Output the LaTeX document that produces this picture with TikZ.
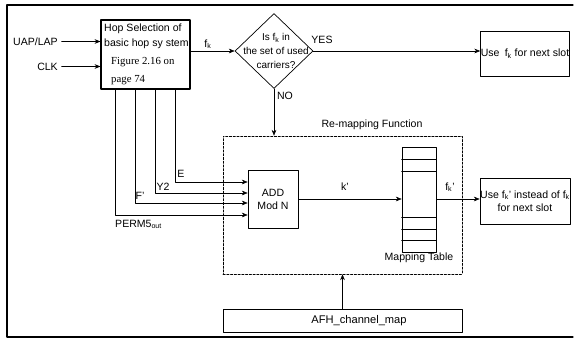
\documentclass[tikz,border=0pt]{standalone}
\usepackage{fontspec}
\setmainfont{Liberation Sans}
\newfontfamily\figfont{Liberation Serif}
\usetikzlibrary{shapes.geometric,arrows.meta}

\tikzset{
  blk/.style={draw, line width=0.6pt, inner sep=0pt},
  lbl/.style={inner sep=0pt, font=\fontsize{9}{11}\selectfont},
  figlbl/.style={inner sep=0pt, font=\figfont\fontsize{9.2}{11}\selectfont},
  dashbox/.style={draw, line width=0.5pt, dash pattern=on 2pt off 1.2pt, inner sep=0pt},
}

\begin{document}
\begin{tikzpicture}[line cap=round,line join=round,>={Stealth[length=5pt,width=4pt]},x=0.03cm,y=-0.03cm,
  font=\fontsize{9}{11}\selectfont]
\useasboundingbox (0,0) rectangle (575,339);
% frame
\draw [line width=1.1pt] (573,5)-- (7,5)-- (7,337)-- (573,337);

% hop selection
\node [blk, line width=0.9pt, minimum width=2.67cm, minimum height=2.07cm] (hop) at (145.5,54.5) {};
\node [lbl, anchor=west] (hop1) at (104,29) {Hop Selection of};
\node [lbl, anchor=west] (hop2) at (104,44) {basic hop sy stem};
\node [figlbl, anchor=west] (hop3) at (111,62) {Figure 2.16 on};
\node [figlbl, anchor=west] (hop4) at (111,80) {page 74};
\node [lbl, anchor=east] (uap) at (58,41.5) {UAP/LAP};
\node [lbl, anchor=east] (clk) at (58,66.5) {CLK};
\draw [->] ([xshift=3pt]uap.east)-- (uap.east -| hop.west);
\draw [->] ([xshift=3pt]clk.east)-- (clk.east -| hop.west);

% carrier test
\node [blk, diamond, minimum width=2.34cm, minimum height=2.25cm] (carr) at (274,51) {};
\node [inner sep=0pt, align=center, font=\fontsize{8.5}{12}\selectfont] (carrtxt) at (276,51) {Is f\textsubscript{k} in\\the set of used\\carriers?};
\draw [->] (hop.east |- carr.west)-- (carr.west);
\node [lbl] (fk) at (208,44) {f\textsubscript{k}};
\node [lbl] (yes) at (322,40) {YES};
\node [blk, minimum width=2.67cm, minimum height=1.35cm] (use1) at (525,53.5) {Use\enspace f\textsubscript{k} for next slot};
\draw [->] (carr.east)-- (carr.east -| use1.west);
\node [lbl] (no) at (285,96) {NO};

% re-mapping function
\node [dashbox, minimum width=7.17cm, minimum height=4.14cm] (remap) at (342.5,205) {};
\node [lbl] (remaplbl) at (372,125) {Re-mapping Function};
\draw [->] (carr.south)-- (carr.south |- remap.north);
\node [blk, align=center, minimum width=1.5cm, minimum height=1.74cm] (add) at (273,199) {ADD\\Mod N};
\node [blk, minimum width=1.02cm, minimum height=3.15cm] (tab) at (419,199.5) {};
\foreach \yy in {159,171,217,229,240}
  \draw [line width=0.6pt] (tab.west |- 0,\yy)-- (tab.east |- 0,\yy);
\node [lbl] (tablbl) at (419,258) {Mapping Table};
\draw [->] (add.east)-- (add.east -| tab.west);
\node [lbl] (kp) at (345,187) {k'};
\node [blk, align=center, minimum width=2.7cm, minimum height=1.38cm] (use2) at (525,201) {Use f\textsubscript{k}' instead of f\textsubscript{k}\\for next slot};
\draw [->] (tab.east |- add.east)-- (add.east -| use2.west);
\node [lbl] (fkp) at (450,187) {f\textsubscript{k}'};

% hop outputs into adder
\foreach \xx/\yy in {175/182,155/193,135/203,115/215}
  \draw [->] (hop.south -| \xx,0) |- (add.west |- 0,\yy);
\node [lbl] (elbl) at (181,174) {E};
\node [lbl] (ylbl) at (163,187) {Y2};
\node [lbl] (flbl) at (140,196) {F'};
\node [lbl, anchor=west] (plbl) at (115,224) {PERM5\textsubscript{out}};

% channel map
\node [blk, minimum width=7.17cm, minimum height=0.69cm] (afh) at (342.5,320.5) {};
\node [inner sep=0pt, font=\fontsize{9.5}{11}\selectfont] (afhtxt) at (359,320.5) {AFH\_channel\_map};
\draw [->] (afh.north)-- (remap.south);
\end{tikzpicture}
\end{document}
